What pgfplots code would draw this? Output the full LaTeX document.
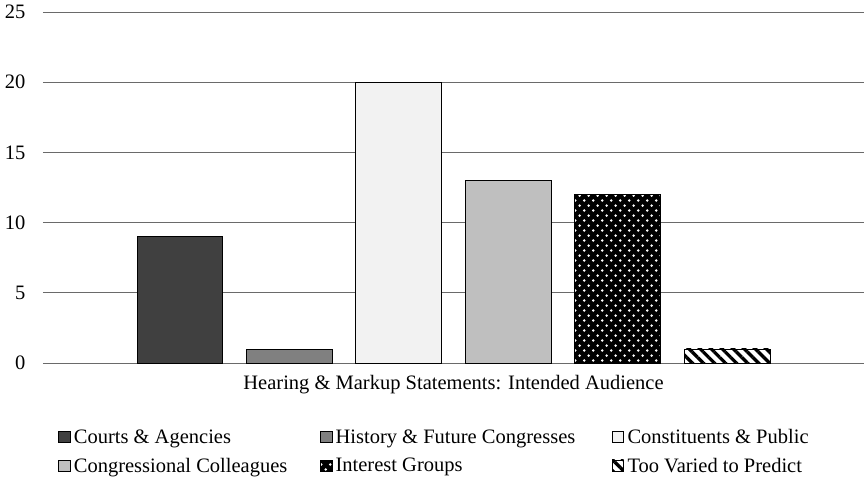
\documentclass[border=0pt]{standalone}
\usepackage{fontspec}
\setmainfont{Liberation Serif}
\usepackage{pgfplots}
\pgfplotsset{compat=1.18}
\usetikzlibrary{patterns.meta}
\definecolor{cA}{HTML}{404040}
\definecolor{cB}{HTML}{808080}
\definecolor{cC}{HTML}{F2F2F2}
\definecolor{cD}{HTML}{BFBFBF}
\definecolor{gridc}{HTML}{6A6A6A}
\tikzdeclarepattern{
  name=stagdots,
  type=uncolored,
  bottom left={(0pt,0pt)},
  top right={(9.4pt,10.4pt)},
  tile size={(9.4pt,10.4pt)},
  code={\fill (2.35pt,2.6pt) circle (1.45pt); \fill (7.05pt,7.8pt) circle (1.45pt);}
}
\newcommand{\fs}{\fontsize{20.5}{24}\selectfont}
\begin{document}
\begin{tikzpicture}
\begin{axis}[
  at={(0,0)}, anchor=south west,
  width=821pt, height=351pt, scale only axis,
  xmin=-1.251, xmax=6.251, ymin=0, ymax=25,
  ytick={0,5,10,15,20,25},
  xtick={2.5}, xticklabels={Hearing \& Markup Statements: Intended Audience},
  ymajorgrids, grid style={gridc, line width=0.8pt},
  axis line style={draw=none}, major tick length=0pt,
  tick label style={font=\fs},
  /pgf/number format/assume math mode=true,
  yticklabel style={xshift=-14pt},
  xticklabel style={yshift=-8.5pt},
  ybar, bar width=0.785,
  legend columns=3, legend cell align=left,
  legend style={draw=none, font=\fs, at={(axis description cs:0.01827,-0.185)}, anchor=north west,
    /tikz/column 1/.style={column sep=2.5pt},
    /tikz/column 2/.style={column sep=31.5pt},
    /tikz/column 3/.style={column sep=2.5pt},
    /tikz/column 4/.style={column sep=35.5pt},
    /tikz/column 5/.style={column sep=2.5pt},
    row sep=11pt, inner sep=0pt,
    nodes={inner sep=1pt}},
  legend image code/.code={\draw[#1, line width=0.6pt] (0pt,-5.8pt) rectangle (11.6pt,5.8pt);},
]
\addplot[bar shift=0pt, fill=cA, draw=black, line width=0.8pt] coordinates {(0,9)};
\addlegendentry{Courts \& Agencies}
\addplot[bar shift=0pt, fill=cB, draw=black, line width=0.8pt] coordinates {(1,1)};
\addlegendentry{History \& Future Congresses}
\addplot[bar shift=0pt, fill=cC, draw=black, line width=0.8pt] coordinates {(2,20)};
\addlegendentry{Constituents \& Public}
\addplot[bar shift=0pt, fill=cD, draw=black, line width=0.8pt] coordinates {(3,13)};
\addlegendentry{Congressional Colleagues}
\addplot[bar shift=0pt, fill=black, draw=black, line width=0.8pt,
  postaction={pattern=stagdots, pattern color=white}] coordinates {(4,12)};
\addlegendentry{Interest Groups}
\addplot[bar shift=0pt, fill=white, draw=black, line width=0.8pt,
  postaction={pattern={Lines[angle=-45, distance=7.8pt, line width=3.3pt]}, pattern color=black}] coordinates {(5,1)};
\addlegendentry{Too Varied to Predict}
\end{axis}
\pgfresetboundingbox
\path[use as bounding box] (-43pt,-124pt) rectangle (821pt,363pt);
\end{tikzpicture}
\end{document}
